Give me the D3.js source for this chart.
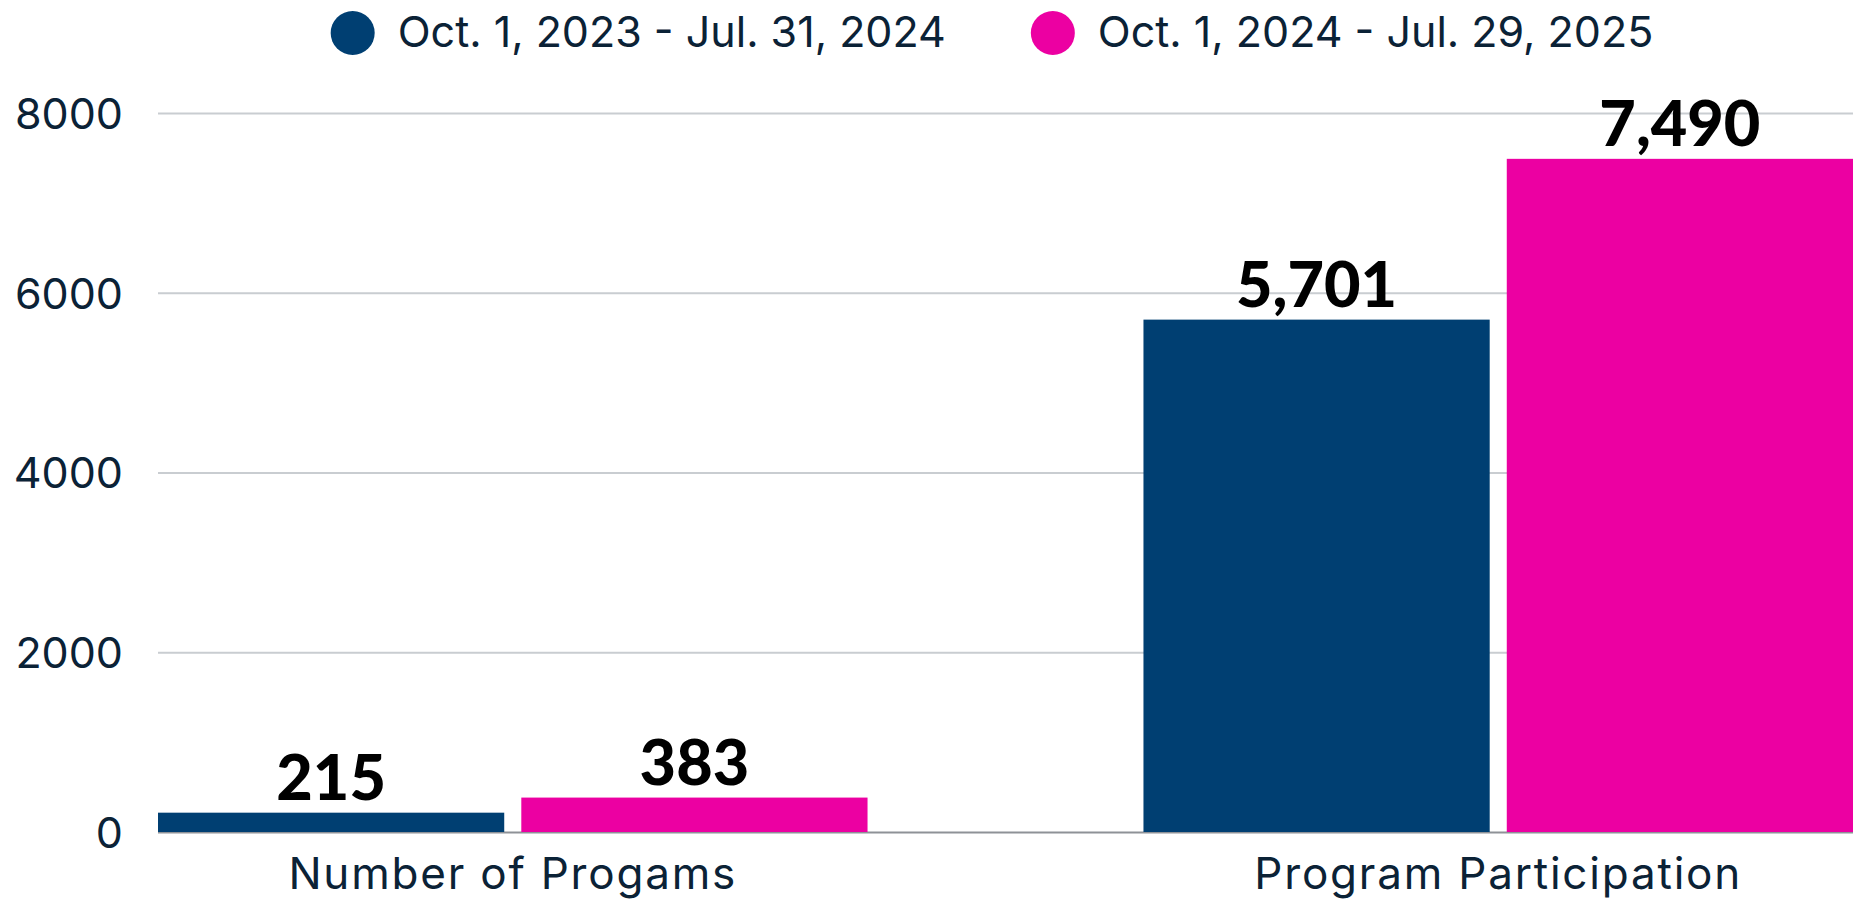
<!DOCTYPE html>
<html>
<head>
<meta charset="utf-8">
<script src="https://cdn.jsdelivr.net/npm/d3@7"></script>
<style>
  html, body { margin: 0; padding: 0; background: #fff; }
  svg { display: block; }
</style>
</head>
<body>
<div id="chart"></div>
<script>
const categories = ['Number of Progams', 'Program Participation'];
const seriesNames = ['Oct. 1, 2023 - Jul. 31, 2024', 'Oct. 1, 2024 - Jul. 29, 2025'];
const series2024 = [215, 5701];
const series2025 = [383, 7490];
const yTicks = [0, 2000, 4000, 6000, 8000];
const colors = ['#003f72', '#ec00a2'];

const canvasWidth = 1862;
const canvasHeight = 900;
const margins = { top: 113, right: 9, bottom: 68, left: 158 };
const width = canvasWidth - margins.left - margins.right;
const height = canvasHeight - margins.top - margins.bottom;

const data = categories.map((c, i) => ({
  category: c,
  values: [series2024[i], series2025[i]],
}));

const svg = d3.select('#chart')
  .append('svg')
    .attr('width', canvasWidth)
    .attr('height', canvasHeight);

const chart = svg.append('g')
  .attr('transform', `translate(${margins.left}, ${margins.top})`);

// scales
const scaleX = d3.scaleBand()
  .domain(categories)
  .range([0, width])
  .paddingInner(0.28)
  .paddingOuter(0);
const scaleSeries = d3.scaleBand()
  .domain(d3.range(seriesNames.length))
  .range([0, scaleX.bandwidth()])
  .paddingInner(0.047);
const scaleY = d3.scaleLinear()
  .domain([0, 8000])
  .range([height, 0]);

// grid + y labels
const axisY = d3.axisLeft(scaleY)
  .tickValues(yTicks)
  .tickSize(-width)
  .tickPadding(35)
  .tickFormat(d => d);

const y = chart.append('g')
  .call(axisY);
y.select('.domain').remove();
y.selectAll('.tick line')
  .attr('stroke', d => (d === 0 ? '#8e9297' : '#c9cdd1'))
  .attr('stroke-width', 2);
y.selectAll('.tick text')
  .attr('fill', '#0b2236')
  .attr('font-family', 'Inter, sans-serif')
  .attr('font-size', 43)
  .attr('dy', '0.36em');

// bars
const groups = chart.append('g')
  .selectAll('g')
  .data(data)
  .enter()
  .append('g')
    .attr('transform', d => `translate(${scaleX(d.category)}, 0)`);

groups.selectAll('rect')
  .data(d => d.values)
  .enter()
  .append('rect')
    .attr('x', (d, i) => scaleSeries(i))
    .attr('y', d => scaleY(d))
    .attr('width', scaleSeries.bandwidth())
    .attr('height', d => height - scaleY(d))
    .attr('fill', (d, i) => colors[i]);

groups.selectAll('.value')
  .data(d => d.values)
  .enter()
  .append('text')
    .attr('class', 'value')
    .attr('x', (d, i) => scaleSeries(i) + scaleSeries.bandwidth() / 2)
    .attr('y', d => scaleY(d) - 13)
    .attr('text-anchor', 'middle')
    .attr('font-family', 'Lato, sans-serif')
    .attr('font-weight', 900)
    .attr('font-size', 63)
    .attr('fill', '#000')
    .text(d => d3.format(',')(d));

// category labels
chart.append('g')
  .selectAll('text')
  .data(categories)
  .enter()
  .append('text')
    .attr('x', d => scaleX(d) + scaleX.bandwidth() / 2)
    .attr('y', height + 57)
    .attr('text-anchor', 'middle')
    .attr('font-family', 'Inter, sans-serif')
    .attr('font-size', 44)
    .attr('letter-spacing', 1.8)
    .attr('fill', '#0b2236')
    .text(d => d);

// legend
const legend = svg.append('g');
const items = legend.selectAll('g')
  .data(seriesNames)
  .enter()
  .append('g');
items.append('circle')
  .attr('r', 22)
  .attr('cx', 22)
  .attr('cy', 33)
  .attr('fill', (d, i) => colors[i]);
items.append('text')
  .attr('x', 67)
  .attr('y', 47)
  .attr('font-family', 'Inter, sans-serif')
  .attr('font-size', 43)
  .attr('fill', '#0b2236')
  .text(d => d);

let offset = 0;
const widths = [];
items.each(function () {
  widths.push(this.getBBox().width);
});
const gap = 85;
const total = d3.sum(widths) + gap * (widths.length - 1);
const start = 992 - total / 2;
items.attr('transform', (d, i) => {
  const x = start + offset;
  offset += widths[i] + gap;
  return `translate(${x}, 0)`;
});
</script>
</body>
</html>
